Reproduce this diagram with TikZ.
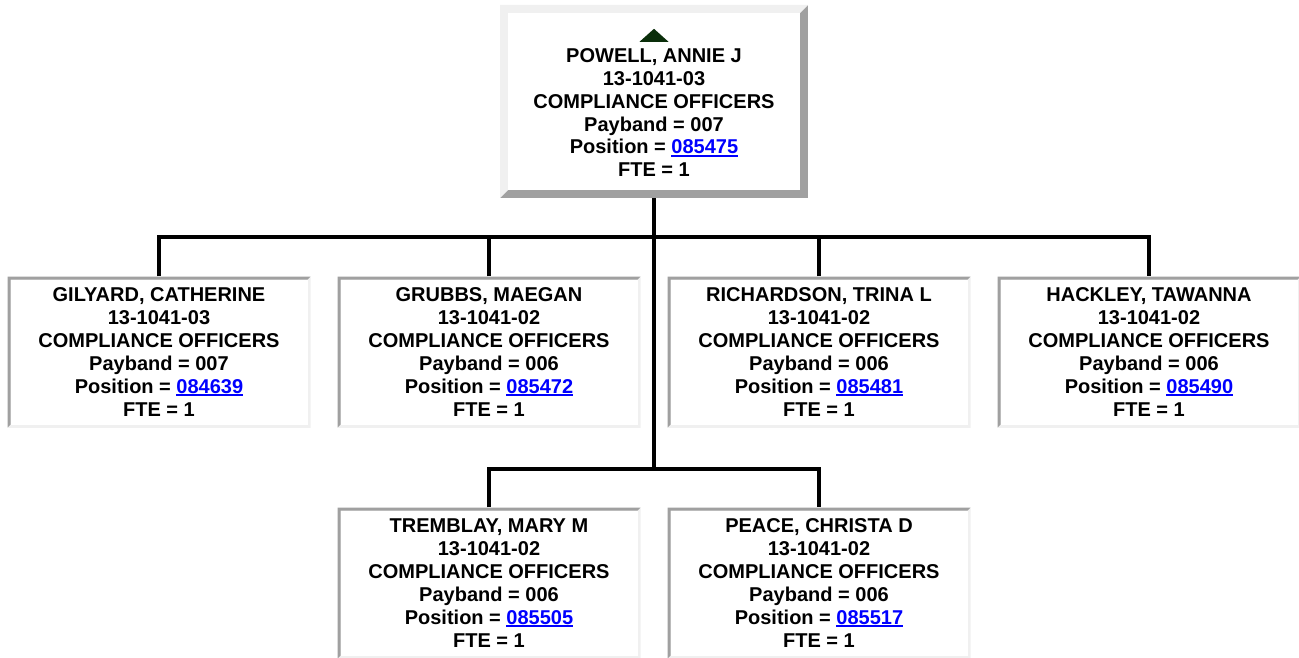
\documentclass[tikz,border=0pt]{standalone}
\usepackage{fontspec}
\setmainfont{Liberation Sans}

\definecolor{edgedark}{HTML}{A0A0A0}
\definecolor{edgelight}{HTML}{F0F0F0}
\definecolor{linkblue}{HTML}{0000FF}
\definecolor{uparrow}{HTML}{0A2E0A}

% underlined position number
\newcommand{\poslink}[1]{\textcolor{linkblue}{\setbox0\hbox{#1}\rlap{\rule[-3pt]{\wd0}{2pt}}\box0}}

\tikzset{
  bevel/.style n args={3}{path picture={
      \fill[#3] (path picture bounding box.south west) rectangle (path picture bounding box.north east);
      \fill[#2] (path picture bounding box.south west) -- (path picture bounding box.north west)
        -- (path picture bounding box.north east) -- ++(-#1,-#1)
        -- ([shift={(#1,-#1)}]path picture bounding box.north west)
        -- ([shift={(#1,#1)}]path picture bounding box.south west) -- cycle;
      \fill[white] ([shift={(#1,#1)}]path picture bounding box.south west)
        rectangle ([shift={(-#1,-#1)}]path picture bounding box.north east);
  }},
  card/.style={align=center, inner sep=0pt, font=\bfseries\fontsize{20}{23}\selectfont},
  person/.style={card, bevel={3pt}{edgedark}{edgelight}, minimum width=303pt, minimum height=151pt},
  headbox/.style={card, bevel={8pt}{edgelight}{edgedark}, minimum width=308pt, minimum height=193pt},
  wire/.style={line width=4pt}
}

\begin{document}
\begin{tikzpicture}[x=1pt,y=-1pt]
  \useasboundingbox (0,0) rectangle (1299,658);
  \def\rowa{352}
  \def\rowb{583}

  \node[headbox] (powell) at (654,101.5) {\rule{0pt}{13pt}\\POWELL, ANNIE J\\13-1041-03\\COMPLIANCE OFFICERS\\Payband = 007\\Position = \poslink{085475}\\FTE = 1};
  \fill[uparrow] ([shift={(-14.5pt,-37pt)}]powell.north) -- ([shift={(14.5pt,-37pt)}]powell.north) -- ([yshift=-24pt]powell.north) -- cycle;

  \foreach \nm/\name/\code/\pay/\pos/\cx/\cy in {
      gilyard/{GILYARD, CATHERINE}/03/007/084639/159/\rowa,
      grubbs/{GRUBBS, MAEGAN}/02/006/085472/489/\rowa,
      richardson/{RICHARDSON, TRINA L}/02/006/085481/819/\rowa,
      hackley/{HACKLEY, TAWANNA}/02/006/085490/1149/\rowa,
      tremblay/{TREMBLAY, MARY M}/02/006/085505/489/\rowb,
      peace/{PEACE, CHRISTA D}/02/006/085517/819/\rowb}
    \node[person] (\nm) at (\cx,\cy) {\name\\13-1041-\code\\COMPLIANCE OFFICERS\\Payband = \pay\\Position = \poslink{\pos}\\FTE = 1};

  \coordinate (bus1) at (654,237);
  \coordinate (bus2) at (654,468.5);
  \draw[wire] (powell.south) -- (bus2);
  \draw[wire] (gilyard.north) |- (bus1) -| (hackley.north);
  \foreach \nm in {grubbs,richardson}
    \draw[wire] (\nm.north) -- (\nm.north |- bus1);
  \draw[wire] (tremblay.north) |- (bus2) -| (peace.north);
\end{tikzpicture}
\end{document}
